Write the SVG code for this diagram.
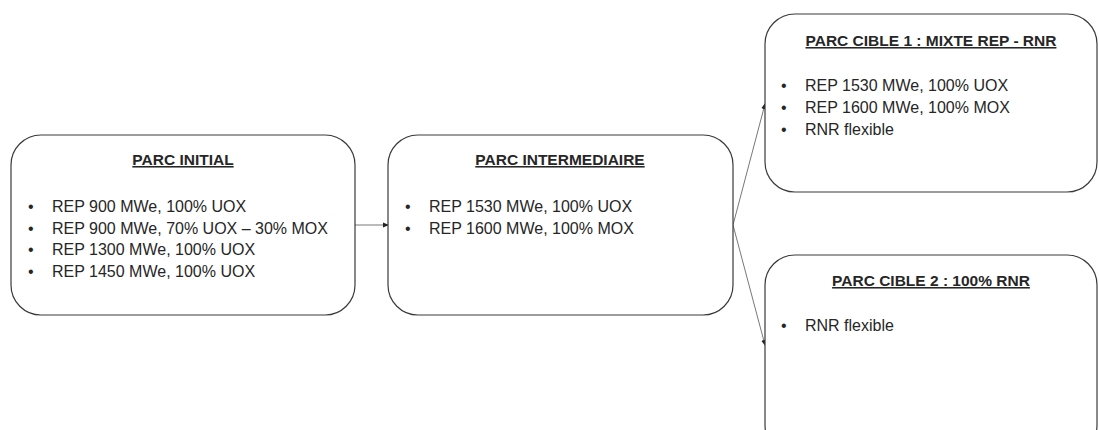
<svg xmlns="http://www.w3.org/2000/svg" width="1099" height="430" viewBox="0 0 1099 430">
<style>
.box{fill:#fff;stroke:#3a3a3a;stroke-width:1.2}
.t{font-family:"Liberation Sans",Arial,sans-serif;font-size:16px;fill:#262626}
.h{font-family:"Liberation Sans",Arial,sans-serif;font-size:15.5px;font-weight:bold;fill:#262626;text-decoration:underline;text-anchor:middle}
.c{stroke:#555;stroke-width:0.8;fill:none;marker-end:url(#a)}
</style>
<defs>
<marker id="a" markerWidth="6" markerHeight="6" refX="5" refY="3" orient="auto" markerUnits="userSpaceOnUse">
<path d="M0,0.5 L6,3 L0,5.5 z" fill="#222"/>
</marker>
</defs>
<rect width="1099" height="430" fill="#fff"/>
<g id="connectors">
<line class="c" x1="355" y1="225" x2="388" y2="225"/>
<line class="c" x1="733" y1="225" x2="765" y2="104"/>
<line class="c" x1="733" y1="225" x2="765" y2="345"/>
</g>
<g id="n1">
<rect class="box" x="11" y="135" width="344" height="180" rx="30"/>
<text class="h" x="183" y="165">PARC INITIAL</text>
<text class="t" x="28" y="212">•</text><text class="t" x="52" y="212">REP 900 MWe, 100% UOX</text>
<text class="t" x="28" y="234">•</text><text class="t" x="52" y="234">REP 900 MWe, 70% UOX – 30% MOX</text>
<text class="t" x="28" y="255">•</text><text class="t" x="52" y="255">REP 1300 MWe, 100% UOX</text>
<text class="t" x="28" y="277">•</text><text class="t" x="52" y="277">REP 1450 MWe, 100% UOX</text>
</g>
<g id="n2">
<rect class="box" x="388" y="135" width="345" height="180" rx="30"/>
<text class="h" x="560" y="165">PARC INTERMEDIAIRE</text>
<text class="t" x="405" y="212">•</text><text class="t" x="429" y="212">REP 1530 MWe, 100% UOX</text>
<text class="t" x="405" y="234">•</text><text class="t" x="429" y="234">REP 1600 MWe, 100% MOX</text>
</g>
<g id="n3">
<rect class="box" x="765" y="14" width="332" height="178" rx="30"/>
<text class="h" x="931" y="46">PARC CIBLE 1 : MIXTE REP - RNR</text>
<text class="t" x="781" y="91">•</text><text class="t" x="805" y="91">REP 1530 MWe, 100% UOX</text>
<text class="t" x="781" y="113">•</text><text class="t" x="805" y="113">REP 1600 MWe, 100% MOX</text>
<text class="t" x="781" y="135">•</text><text class="t" x="805" y="135">RNR flexible</text>
</g>
<g id="n4">
<rect class="box" x="765" y="255" width="332" height="200" rx="30"/>
<text class="h" x="931" y="286">PARC CIBLE 2 : 100% RNR</text>
<text class="t" x="781" y="331">•</text><text class="t" x="805" y="331">RNR flexible</text>
</g>
</svg>
